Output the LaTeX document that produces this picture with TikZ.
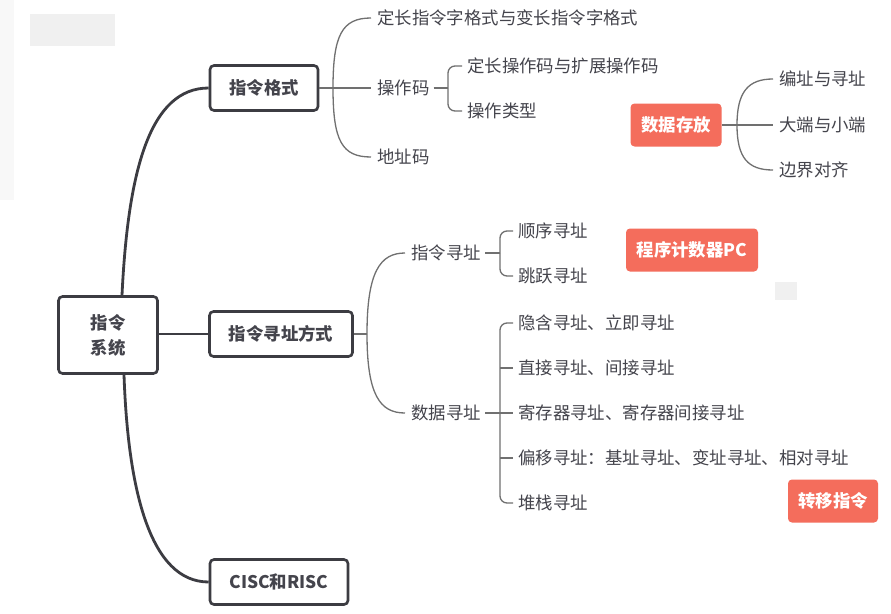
\documentclass[tikz,border=0pt]{standalone}
\usepackage{fontspec}
\setmainfont{Noto Sans CJK SC}
\definecolor{txt}{HTML}{44444C}
\definecolor{boxline}{HTML}{3C3C42}
\definecolor{thinc}{HTML}{707070}
\definecolor{orangefill}{HTML}{F46D5C}
\definecolor{blurgray}{HTML}{F0F0F0}
\begin{document}
\begin{tikzpicture}[x=1pt,y=-1pt,
  mainbox/.style={draw=boxline, line width=2.6pt, rounded corners=4pt, fill=white,
    text=txt, font=\fontsize{17.4}{25}\selectfont\bfseries, minimum height=45pt, inner sep=0pt, align=center},
  hotbox/.style={fill=orangefill, rounded corners=4pt, text=white,
    font=\fontsize{17.4}{22}\selectfont\bfseries, minimum height=43pt, inner sep=0pt},
  leaf/.style={anchor=west, inner sep=0pt, text=txt, font=\fontsize{17.4}{22}\selectfont},
  thickline/.style={draw=boxline, line width=2.8pt},
  thinline/.style={draw=thinc, line width=1.3pt}]
\useasboundingbox (0,0) rectangle (891,613);
\fill[white] (0,0) rectangle (891,613);
% faint blur remnants
\fill[blurgray!50] (0,0) rectangle (14,200);
\fill[blurgray] (30,14) rectangle (115,46);
\fill[blurgray] (775,282) rectangle (797,300);

% main boxes
\node[mainbox, minimum width=99pt, minimum height=77pt] (root) at (108,335) {指令\\系统};
\node[mainbox, minimum width=108pt] (fmt) at (264,88) {指令格式};
\node[mainbox, minimum width=143pt] (addr) at (281,334) {指令寻址方式};
\node[mainbox, minimum width=138pt] (cisc) at (279,582) {CISC和RISC};

\draw[thickline] ([xshift=14pt]root.north) .. controls (128,170) and (150,88) .. (fmt.west);
\draw[thickline] ([xshift=16pt]root.south) .. controls (128,490) and (150,582) .. (cisc.west);
\draw[thickline] (root.east |- addr.west) -- (addr.west);

% 指令格式 branch
\node[leaf] (f1) at (377,18) {定长指令字格式与变长指令字格式};
\node[leaf] (f2) at (377,88) {操作码};
\node[leaf] (f3) at (377,157) {地址码};
\coordinate (fj) at (333,88);
\draw[thinline] (fmt.east) -- (fj) -- ([xshift=-6pt]f2.west);
\draw[thinline] (fj) .. controls (333,35) and (342,18) .. ([xshift=-6pt]f1.west);
\draw[thinline] (fj) .. controls (333,141) and (342,157) .. ([xshift=-6pt]f3.west);

\node[leaf] (o1) at (467,66) {定长操作码与扩展操作码};
\node[leaf] (o2) at (467,111) {操作类型};
\coordinate (oj) at (448,88);
\draw[thinline] ([xshift=4pt]f2.east) -- (oj);
\draw[thinline, rounded corners=7pt] (oj) -- (oj |- o1.west) -- ([xshift=-5pt]o1.west);
\draw[thinline, rounded corners=7pt] (oj) -- (oj |- o2.west) -- ([xshift=-5pt]o2.west);

% 数据存放
\node[hotbox, minimum width=91pt] (ds) at (676,125) {数据存放};
\node[leaf] (d1) at (779,79) {编址与寻址};
\node[leaf] (d2) at (779,125) {大端与小端};
\node[leaf] (d3) at (779,170) {边界对齐};
\coordinate (dj) at (737,125);
\draw[thinline] (ds.east) -- (dj) -- ([xshift=-6pt]d2.west);
\draw[thinline] (dj) .. controls (737,92) and (748,79) .. ([xshift=-6pt]d1.west);
\draw[thinline] (dj) .. controls (737,158) and (748,170) .. ([xshift=-6pt]d3.west);

% 指令寻址方式 branch
\node[leaf] (a1) at (411,253) {指令寻址};
\node[leaf] (a2) at (411,413) {数据寻址};
\coordinate (aj) at (367,334);
\draw[thinline] (addr.east) -- (aj);
\draw[thinline] (aj) .. controls (367,272) and (380,253) .. ([xshift=-6pt]a1.west);
\draw[thinline] (aj) .. controls (367,395) and (380,413) .. ([xshift=-6pt]a2.west);

\node[leaf] (s1) at (518,231) {顺序寻址};
\node[leaf] (s2) at (518,276) {跳跃寻址};
\coordinate (sj) at (500,253);
\draw[thinline] ([xshift=4pt]a1.east) -- (sj);
\draw[thinline, rounded corners=7pt] (sj) -- (sj |- s1.west) -- ([xshift=-5pt]s1.west);
\draw[thinline, rounded corners=7pt] (sj) -- (sj |- s2.west) -- ([xshift=-5pt]s2.west);

\node[hotbox, minimum width=132pt] (pc) at (692,250) {程序计数器PC};

\node[leaf] (m1) at (518,323) {隐含寻址、立即寻址};
\node[leaf] (m2) at (518,368) {直接寻址、间接寻址};
\node[leaf] (m3) at (518,413) {寄存器寻址、寄存器间接寻址};
\node[leaf] (m4) at (518,458) {偏移寻址：基址寻址、变址寻址、相对寻址};
\node[leaf] (m5) at (518,503) {堆栈寻址};
\coordinate (mj) at (500,413);
\draw[thinline] ([xshift=4pt]a2.east) -- (mj) -- ([xshift=-5pt]m3.west);
\draw[thinline, rounded corners=7pt] (mj) -- (mj |- m1.west) -- ([xshift=-5pt]m1.west);
\draw[thinline, rounded corners=7pt] (mj) -- (mj |- m5.west) -- ([xshift=-5pt]m5.west);
\draw[thinline] (mj |- m2.west) -- ([xshift=-5pt]m2.west);
\draw[thinline] (mj |- m4.west) -- ([xshift=-5pt]m4.west);

\node[hotbox, minimum width=90pt] (zy) at (833,501) {转移指令};
\end{tikzpicture}
\end{document}
